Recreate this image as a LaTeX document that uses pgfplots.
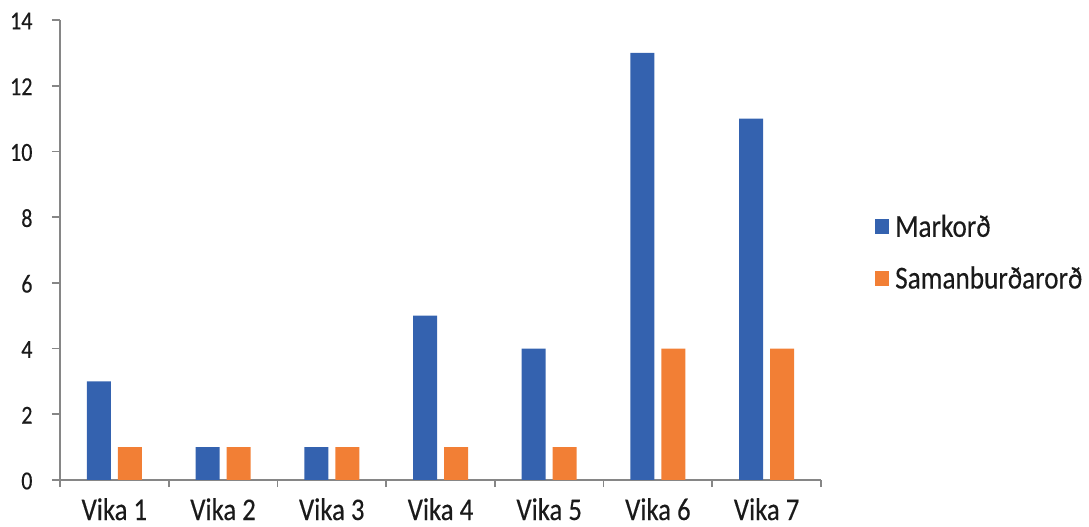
\documentclass[border=0pt]{standalone}
\usepackage{pgfplots}
\pgfplotsset{compat=1.18}
\usepackage{fontspec}
\setmainfont{Carlito}[FakeStretch=0.85, FakeBold=0.3]
\definecolor{cblue}{HTML}{3462AF}
\definecolor{corange}{HTML}{F27F35}
\definecolor{axgrey}{HTML}{868686}
\definecolor{txt}{HTML}{1A1A1A}
\begin{document}
\begin{tikzpicture}
\useasboundingbox (0bp,0bp) rectangle (1089bp,527bp);
\begin{axis}[
  at={(60bp,47bp)}, anchor=south west,
  scale only axis, width=761bp, height=460bp,
  xmin=-0.5, xmax=6.5, ymin=0, ymax=14,
  axis lines*=left,
  axis line style={axgrey, line width=1.6bp},
  ytick={0,2,...,14},
  xtick={0,...,6},
  xticklabels={Vika 1,Vika 2,Vika 3,Vika 4,Vika 5,Vika 6,Vika 7},
  minor xtick={-0.5,0.5,...,6.5},
  major x tick style={draw=none},
  minor x tick style={axgrey, line width=1.6bp},
  y tick style={axgrey, line width=1.6bp},
  tick align=outside,
  major tick length=8bp, minor tick length=7bp,
  /pgf/number format/assume math mode=true,
  yticklabel style={font=\fontsize{26bp}{30bp}\selectfont, text=txt, xshift=-16bp, yshift=-1bp},
  xticklabel style={font=\fontsize{31.5bp}{36bp}\selectfont, text=txt, anchor=base, yshift=-32bp},
  ybar, bar width=24bp,
  legend style={at={(1.071,0.495)}, anchor=west, draw=none, fill=none,
    font=\fontsize{32bp}{36bp}\selectfont, text=txt, row sep=24bp,
    legend cell align=left, inner sep=0pt,
    /tikz/every even column/.append style={column sep=0pt}},
  legend image code/.code={\fill[#1] (0bp,-7.5bp) rectangle (14bp,7.5bp); \path (18bp,0bp);},
]
\addplot[fill=cblue, draw=none, bar shift=-15.5bp] coordinates {(0,3) (1,1) (2,1) (3,5) (4,4) (5,13) (6,11)};
\addplot[fill=corange, draw=none, bar shift=15.5bp] coordinates {(0,1) (1,1) (2,1) (3,1) (4,1) (5,4) (6,4)};
\legend{Markorð, Samanburðarorð}
\end{axis}
\end{tikzpicture}
\end{document}
